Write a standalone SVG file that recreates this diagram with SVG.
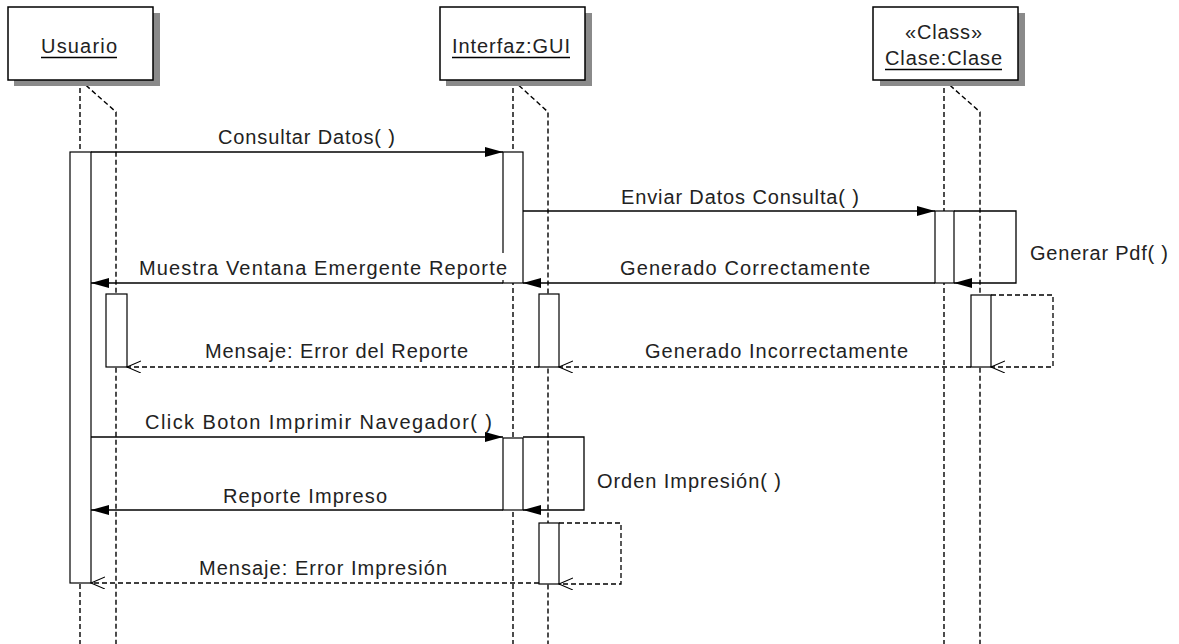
<svg xmlns="http://www.w3.org/2000/svg" width="1179" height="644" viewBox="0 0 1179 644">
  <style>
    .shadow { fill: #8a8a8a; }
    .head { fill: #ffffff; stroke: #000000; stroke-width: 1.5; }
    .life { fill: none; stroke: #000000; stroke-width: 1.4; stroke-dasharray: 5 3; }
    .act { fill: #ffffff; stroke: #000000; stroke-width: 1.2; }
    .msg { fill: none; stroke: #000000; stroke-width: 1.3; }
    .ret { fill: none; stroke: #000000; stroke-width: 1.3; stroke-dasharray: 5 3; }
    .ul { stroke: #000000; stroke-width: 1.3; }
    text { font-family: "Liberation Sans", Arial, sans-serif; font-size: 20px; fill: #222222; }
    .bg { fill: #ffffff; }
  </style>
  <defs>
    <marker id="filled" markerUnits="userSpaceOnUse" markerWidth="20" markerHeight="12" refX="18" refY="5" orient="auto">
      <path d="M0,0 L18,5 L0,10 Z" fill="#000000"/>
    </marker>
    <marker id="open" markerUnits="userSpaceOnUse" markerWidth="16" markerHeight="14" refX="14" refY="6" orient="auto">
      <path d="M0,0 L14,6 L0,12" fill="none" stroke="#000000" stroke-width="1.1"/>
    </marker>
  </defs>

  <rect width="1179" height="644" fill="#ffffff"/>

  <!-- lifelines -->
  <g id="lifelines">
    <path class="life" d="M80,80 V644"/>
    <path class="life" d="M80,80 L116,112 V644"/>
    <path class="life" d="M513,80 V644"/>
    <path class="life" d="M513,80 L548,112 V644"/>
    <path class="life" d="M944,80 V644"/>
    <path class="life" d="M944,80 L980,112 V644"/>
  </g>

  <!-- participants -->
  <g id="usuario">
    <rect class="shadow" x="14" y="13" width="146" height="73"/>
    <rect class="head" x="8" y="7" width="145" height="73"/>
    <text x="41" y="53" textLength="76" lengthAdjust="spacing">Usuario</text>
    <line class="ul" x1="41" y1="57.5" x2="117" y2="57.5"/>
  </g>
  <g id="interfaz">
    <rect class="shadow" x="446" y="13" width="146" height="73"/>
    <rect class="head" x="440" y="7" width="145" height="73"/>
    <text x="452" y="53" textLength="118" lengthAdjust="spacing">Interfaz:GUI</text>
    <line class="ul" x1="452" y1="57.5" x2="570" y2="57.5"/>
  </g>
  <g id="clase">
    <rect class="shadow" x="880" y="13" width="145" height="73"/>
    <rect class="head" x="873" y="7" width="145" height="73"/>
    <text x="905" y="39" textLength="77" lengthAdjust="spacing">«Class»</text>
    <text x="885" y="65" textLength="117" lengthAdjust="spacing">Clase:Clase</text>
    <line class="ul" x1="885" y1="69.5" x2="1002" y2="69.5"/>
  </g>

  <!-- activation bars -->
  <g id="activations">
    <rect class="act" x="70" y="152" width="21" height="431"/>
    <rect class="act" x="106" y="294" width="21" height="73"/>
    <rect class="act" x="503" y="152" width="20" height="131"/>
    <rect class="act" x="539" y="294" width="20" height="73"/>
    <rect class="act" x="503" y="438" width="20" height="72"/>
    <rect class="act" x="539" y="523" width="20" height="61"/>
    <rect class="act" x="935" y="211" width="19" height="72"/>
    <rect class="act" x="971" y="295" width="20" height="72"/>
  </g>

  <!-- messages -->
  <g id="connectors">
    <line class="msg" x1="91" y1="152" x2="503" y2="152" marker-end="url(#filled)"/>
    <line class="msg" x1="523" y1="211" x2="935" y2="211" marker-end="url(#filled)"/>
    <path class="msg" d="M954,211 H1016 V283 H954" marker-end="url(#filled)"/>
    <line class="msg" x1="935" y1="283" x2="523" y2="283" marker-end="url(#filled)"/>
    <line class="msg" x1="503" y1="283" x2="91" y2="283" marker-end="url(#filled)"/>
    <path class="ret" d="M991,295 H1053 V367 H991" marker-end="url(#open)"/>
    <line class="ret" x1="971" y1="367" x2="559" y2="367" marker-end="url(#open)"/>
    <line class="ret" x1="539" y1="367" x2="127" y2="367" marker-end="url(#open)"/>
    <line class="msg" x1="91" y1="437" x2="503" y2="437" marker-end="url(#filled)"/>
    <path class="msg" d="M523,437 H584 V510 H523" marker-end="url(#filled)"/>
    <line class="msg" x1="503" y1="510" x2="91" y2="510" marker-end="url(#filled)"/>
    <path class="ret" d="M559,523 H621 V584 H559" marker-end="url(#open)"/>
    <line class="ret" x1="539" y1="583" x2="91" y2="583" marker-end="url(#open)"/>
  </g>

  <!-- message labels -->
  <g id="labels">
    <text x="218" y="144" textLength="177" lengthAdjust="spacing">Consultar Datos( )</text>
    <text x="621" y="204" textLength="238" lengthAdjust="spacing">Enviar Datos Consulta( )</text>
    <text x="1030" y="260" textLength="138" lengthAdjust="spacing">Generar Pdf( )</text>
    <text x="620" y="275" textLength="250" lengthAdjust="spacing">Generado Correctamente</text>
    <rect class="bg" x="136" y="253" width="373" height="27"/>
    <text x="139" y="275" textLength="368" lengthAdjust="spacing">Muestra Ventana Emergente Reporte</text>
    <text x="645" y="358" textLength="263" lengthAdjust="spacing">Generado Incorrectamente</text>
    <text x="205" y="358" textLength="263" lengthAdjust="spacing">Mensaje: Error del Reporte</text>
    <text x="145" y="429" textLength="347" lengthAdjust="spacing">Click Boton Imprimir Navegador( )</text>
    <text x="597" y="488" textLength="184" lengthAdjust="spacing">Orden Impresión( )</text>
    <text x="223" y="503" textLength="164" lengthAdjust="spacing">Reporte Impreso</text>
    <text x="199" y="575" textLength="248" lengthAdjust="spacing">Mensaje: Error Impresión</text>
  </g>
</svg>
